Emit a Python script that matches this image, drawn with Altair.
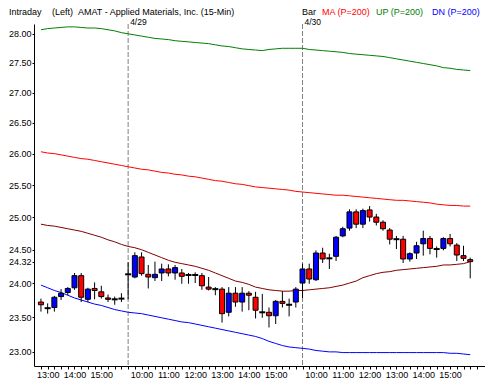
import altair as alt
import pandas as pd

# ---- data ----
bar_idx = list(range(65))
opens = [23.72, 23.63, 23.64, 23.80, 23.86, 23.93, 24.11, 23.76, 23.92, 23.87,
         23.78, 23.76, 23.77, 24.13, 24.09, 24.39, 24.13, 24.08, 24.15, 24.21,
         24.15, 24.15, 24.12, 24.12, 24.11, 23.94, 23.91, 23.91, 23.57, 23.85,
         23.72, 23.85, 23.79, 23.57, 23.57, 23.52, 23.73, 23.68, 23.72, 24.00,
         24.21, 24.05, 24.45, 24.37, 24.40, 24.71, 24.83, 25.08, 24.89, 25.11,
         25.00, 24.92, 24.80, 24.66, 24.66, 24.36, 24.45, 24.59, 24.67, 24.51,
         24.52, 24.67, 24.57, 24.41, 24.35]
highs = [23.77, 23.70, 23.81, 23.91, 23.94, 24.15, 24.15, 23.93, 24.01, 23.96,
         23.83, 23.80, 23.85, 24.31, 24.46, 24.46, 24.27, 24.32, 24.29, 24.28,
         24.27, 24.21, 24.15, 24.16, 24.15, 24.09, 23.94, 23.94, 23.94, 23.94,
         23.94, 23.88, 23.87, 23.84, 23.64, 23.75, 23.88, 23.77, 23.94, 24.29,
         24.29, 24.49, 24.53, 24.44, 24.71, 24.85, 25.12, 25.12, 25.13, 25.17,
         25.05, 24.95, 24.83, 24.71, 24.71, 24.46, 24.62, 24.79, 24.71, 24.55,
         24.69, 24.74, 24.60, 24.56, 24.38]
lows = [23.58, 23.55, 23.58, 23.75, 23.82, 23.90, 23.72, 23.72, 23.76, 23.77,
        23.72, 23.68, 23.72, 23.76, 24.07, 24.11, 23.92, 24.03, 24.03, 24.10,
        24.05, 23.99, 23.99, 24.00, 23.90, 23.89, 23.82, 23.42, 23.51, 23.65,
        23.58, 23.60, 23.48, 23.49, 23.35, 23.40, 23.64, 23.51, 23.64, 23.78,
        23.99, 24.03, 24.30, 24.21, 24.33, 24.69, 24.79, 24.83, 24.83, 24.93,
        24.87, 24.79, 24.58, 24.51, 24.30, 24.32, 24.36, 24.41, 24.43, 24.38,
        24.49, 24.55, 24.33, 24.33, 24.07]
closes = [23.68, 23.63, 23.79, 23.85, 23.92, 24.11, 23.79, 23.91, 23.89, 23.80,
          23.76, 23.76, 23.77, 24.13, 24.41, 24.14, 24.09, 24.13, 24.21, 24.15,
          24.23, 24.10, 24.12, 24.12, 23.96, 23.91, 23.91, 23.55, 23.85, 23.72,
          23.85, 23.82, 23.60, 23.57, 23.52, 23.73, 23.70, 23.68, 23.91, 24.21,
          24.06, 24.45, 24.36, 24.37, 24.69, 24.82, 25.08, 24.89, 25.10, 25.00,
          24.92, 24.82, 24.66, 24.66, 24.36, 24.44, 24.56, 24.67, 24.52, 24.51,
          24.67, 24.59, 24.42, 24.37, 24.32]
up_band = [28.07, 28.09, 28.10, 28.11, 28.12, 28.12, 28.11, 28.10, 28.10, 28.09,
           28.07, 28.05, 28.02, 28.00, 27.98, 27.96, 27.94, 27.92, 27.91, 27.90,
           27.88, 27.87, 27.86, 27.85, 27.84, 27.83, 27.81, 27.79, 27.78, 27.76,
           27.74, 27.73, 27.72, 27.71, 27.73, 27.74, 27.75, 27.75, 27.75, 27.75,
           27.73, 27.72, 27.71, 27.70, 27.69, 27.68, 27.66, 27.65, 27.64, 27.63,
           27.62, 27.61, 27.59, 27.57, 27.55, 27.53, 27.51, 27.49, 27.47, 27.45,
           27.42, 27.41, 27.39, 27.38, 27.37]
ma_200 = [26.03, 26.01, 26.00, 25.98, 25.96, 25.94, 25.92, 25.91, 25.89, 25.87,
          25.85, 25.83, 25.81, 25.79, 25.77, 25.75, 25.74, 25.72, 25.70, 25.69,
          25.67, 25.66, 25.64, 25.63, 25.61, 25.59, 25.57, 25.56, 25.54, 25.52,
          25.51, 25.49, 25.47, 25.46, 25.45, 25.44, 25.43, 25.42, 25.40, 25.39,
          25.38, 25.37, 25.36, 25.35, 25.34, 25.34, 25.33, 25.32, 25.31, 25.30,
          25.29, 25.28, 25.27, 25.26, 25.26, 25.25, 25.24, 25.23, 25.22, 25.20,
          25.19, 25.18, 25.18, 25.17, 25.17]
dn_band = [23.97, 23.93, 23.89, 23.86, 23.82, 23.78, 23.75, 23.72, 23.69, 23.67,
           23.64, 23.61, 23.59, 23.57, 23.56, 23.55, 23.53, 23.51, 23.49, 23.47,
           23.45, 23.43, 23.42, 23.40, 23.38, 23.36, 23.34, 23.32, 23.30, 23.28,
           23.26, 23.24, 23.22, 23.19, 23.15, 23.12, 23.09, 23.07, 23.06, 23.05,
           23.04, 23.02, 23.01, 23.00, 23.00, 22.99, 22.99, 22.99, 22.99, 22.99,
           22.99, 22.99, 22.99, 22.99, 22.99, 22.99, 22.99, 22.99, 22.99, 22.99,
           22.99, 22.98, 22.98, 22.97, 22.96]
ma_short = [24.89, 24.87, 24.86, 24.84, 24.82, 24.80, 24.78, 24.75, 24.72, 24.69,
            24.65, 24.62, 24.58, 24.55, 24.53, 24.50, 24.46, 24.42, 24.38, 24.34,
            24.31, 24.29, 24.27, 24.25, 24.22, 24.19, 24.15, 24.11, 24.07, 24.03,
            24.01, 23.98, 23.94, 23.92, 23.90, 23.89, 23.88, 23.88, 23.89, 23.89,
            23.90, 23.91, 23.92, 23.93, 23.95, 23.97, 24.00, 24.03, 24.08, 24.11,
            24.14, 24.16, 24.17, 24.19, 24.20, 24.21, 24.22, 24.23, 24.24, 24.25,
            24.27, 24.27, 24.28, 24.29, 24.32]

y_tick_values = [23.0, 23.5, 24.0, 24.32, 24.5, 25.0, 25.5, 26.0, 26.5, 27.0, 27.5, 28.0]
hour_idx = [1, 5, 9, 15, 19, 23, 27, 31, 35, 41, 45, 49, 53, 57, 61]
hour_lbl = ["13:00", "14:00", "15:00", "10:00", "11:00", "12:00", "13:00", "14:00",
            "15:00", "10:00", "11:00", "12:00", "13:00", "14:00", "15:00"]
day_idx = [13, 39]
day_lbl = ["4/29", "4/30"]

header_text = ["Intraday", "(Left)", "AMAT - Applied Materials, Inc.  (15-Min)", "Bar",
               "MA (P=200)", "UP (P=200)", "DN (P=200)"]
header_color = ["#000000", "#000000", "#000000", "#000000", "#ff0000", "#008000", "#0000ff"]
header_page_x = [9, 52, 78, 302, 322, 376, 432]

series_names = ["UP", "MA", "DN", "MA short"]
series_colors = ["#008000", "#ff0000", "#0000ff", "#800000"]
up_color, down_color = "#0000ff", "#ff0000"

# ---- layout ----
PAD_L, PAD_T, PAD_R, PAD_B = 26, 16, 0, 14
W, H = 451, 342
FONT = "Liberation Sans"

# ---- tables ----
candles = pd.DataFrame({"i": bar_idx, "o": opens, "h": highs, "l": lows, "c": closes})
candles["dir"] = ["up" if c > o else ("down" if c < o else "flat")
                  for o, c in zip(opens, closes)]
candles["fill"] = [up_color if d == "up" else down_color for d in candles["dir"]]
lines = pd.concat([
    pd.DataFrame({"i": bar_idx, "price": vals, "series": name, "stroke": col})
    for name, vals, col in zip(series_names, [up_band, ma_200, dn_band, ma_short], series_colors)
])
days = pd.DataFrame({"i": day_idx, "lbl": day_lbl})

label_expr = "''"
for k, l in reversed(list(zip(hour_idx, hour_lbl))):
    label_expr = f"datum.value == {k} ? '{l}' : ({label_expr})"

x_scale = alt.Scale(domain=[-0.29, 65.46], nice=False, zero=False)
y_scale = alt.Scale(type="log", domain=[22.80, 28.17], nice=False, zero=False)

x_axis = alt.Axis(values=list(range(0, 66)), labelExpr=label_expr, tickSize=3,
                  labelPadding=1, labelOverlap=False, labelFlush=False, title=None,
                  grid=False, domainColor="#000000", tickColor="#000000")
y_axis = alt.Axis(values=y_tick_values, format=".2f", tickSize=2, labelPadding=1,
                  labelOverlap=False, labelFlush=False, title=None, grid=False,
                  domainColor="#000000", tickColor="#000000")


def X(field):
    return alt.X(f"{field}:Q", scale=x_scale, axis=x_axis)


def Y(field):
    return alt.Y(f"{field}:Q", scale=y_scale, axis=y_axis)


sep = alt.Chart(days).mark_rule(color="#808080", strokeDash=[5, 2], strokeWidth=1).encode(
    x=X("i"))

date_text = alt.Chart(days).mark_text(
    align="left", baseline="alphabetic", dx=2, font=FONT, fontSize=8.5, color="#000000"
).encode(x=X("i"), y=alt.value(1), text="lbl:N")

band_lines = alt.Chart(lines).mark_line(strokeWidth=1).encode(
    x=X("i"), y=Y("price"),
    stroke=alt.Stroke("stroke:N", scale=None),
    detail="series:N")

wicks = alt.Chart(candles).mark_rule(color="#000000", strokeWidth=1).encode(
    x=X("i"), y=Y("l"), y2="h")

bodies = alt.Chart(candles).transform_filter("datum.dir != 'flat'").mark_bar(
    width=5, stroke="#000000", strokeWidth=1, opacity=1
).encode(
    x=X("i"), y=Y("o"), y2="c",
    fill=alt.Fill("fill:N", scale=None))

doji = alt.Chart(candles).transform_filter("datum.dir == 'flat'").mark_tick(
    orient="horizontal", size=6, thickness=2, color="#000000", opacity=1
).encode(x=X("i"), y=Y("c"))

header_layers = []
for t, col, px in zip(header_text, header_color, header_page_x):
    header_layers.append(
        alt.Chart(days).transform_filter("datum.i == 13").mark_text(
            align="left", baseline="alphabetic", font=FONT, fontSize=9, color=col, text=t
        ).encode(x=alt.value(px - 8 - PAD_L), y=alt.value(-9))
    )

chart = alt.layer(sep, band_lines, wicks, bodies, doji, date_text, *header_layers).properties(
    width=W, height=H,
    padding={"left": PAD_L, "top": PAD_T, "right": PAD_R, "bottom": PAD_B},
    autosize=alt.AutoSizeParams(type="none"),
    background="#ffffff",
).configure_view(stroke=None).configure_axis(
    labelFont=FONT, labelFontSize=9, labelColor="#000000"
)

chart.save("out.html", embed_options={"renderer": "svg", "actions": False})
